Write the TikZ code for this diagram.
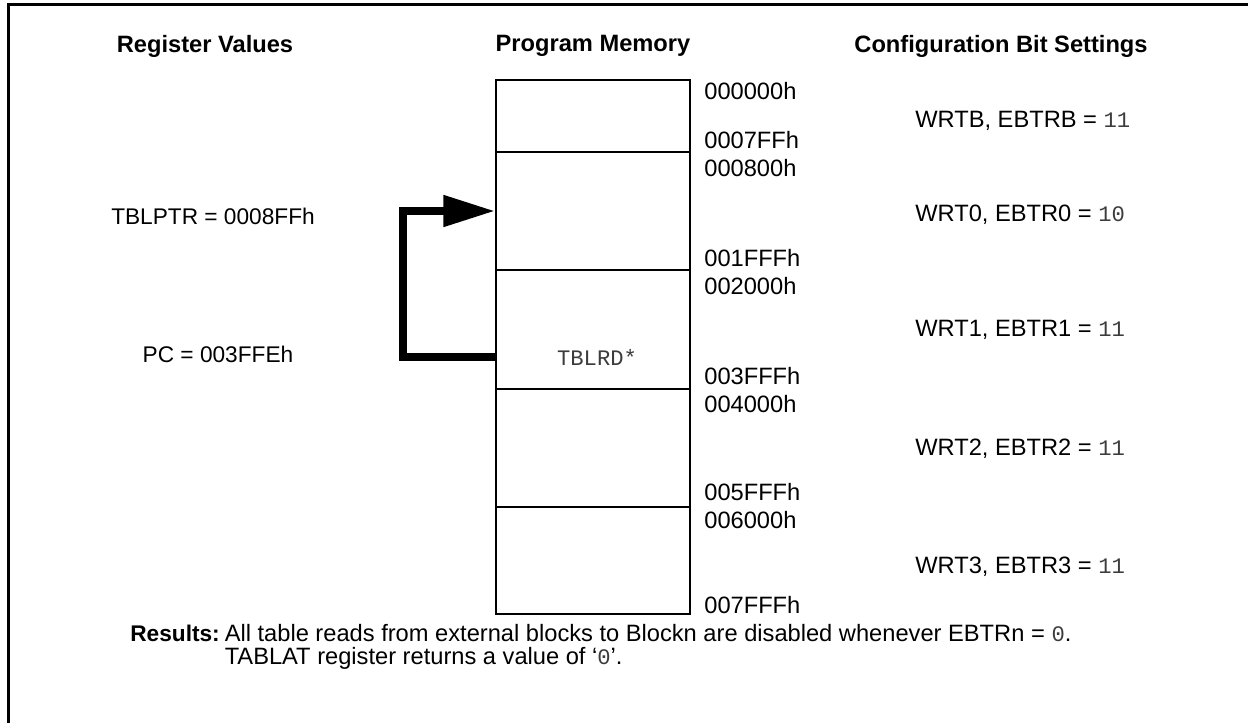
\documentclass[tikz,border=0pt]{standalone}
\usepackage{fontspec}
\setmainfont{Liberation Sans}
\setmonofont{Liberation Mono}
\usetikzlibrary{positioning, arrows.meta}
\definecolor{memline}{RGB}{0, 0, 0}
\definecolor{monogray}{RGB}{60, 60, 60}
\tikzset{
  every node/.style={
    inner sep=0pt,
    font=\fontsize{14.2}{17}\selectfont
  },
  heading/.style={
    font=\fontsize{14.2}{17}\selectfont\bfseries
  },
  memblock/.style={
    draw=memline,
    line width=1.2pt,
    minimum width=116.4pt,
    anchor=north west
  },
  addr/.style={
    anchor=west
  },
  cfgbits/.style={
    anchor=west
  },
  regval/.style={
    anchor=center,
    font=\fontsize{13.6}{16}\selectfont
  },
  tblread/.style={
    -{Triangle[length=31pt, width=18pt]},
    line width=4.8pt
  }
}
\newcommand{\mono}[1]{{\fontsize{13.3}{16}\ttfamily\color{monogray}#1}}

\begin{document}
\begin{tikzpicture}[x=0.6pt, y=-0.6pt]
  \useasboundingbox (0,0) rectangle (1248,722);
  % Frame
  \draw[line width=1.5pt] (8.5,730) -- (8.5,4.5) -- (1260,4.5);

  % Column headings
  \node[heading] (hreg) at (205,46) {Register Values};
  \node[heading] (hmem) at (593,46) {Program Memory};
  \node[heading] (hcfg) at (1001,46) {Configuration Bit Settings};

  % Program memory blocks
  \node[memblock, minimum height=43.2pt] (blkB) at (495,79)  {};
  \node[memblock, minimum height=70.8pt] (blk0) at (495,151) {};
  \node[memblock, minimum height=71.4pt] (blk1) at (495,269) {};
  \node[memblock, minimum height=70.8pt] (blk2) at (495,388) {};
  \node[memblock, minimum height=64.2pt] (blk3) at (495,506) {};

  % Addresses
  \node[addr] (a0) at (704,91)  {000000h};
  \node[addr] (a1) at (704,140) {0007FFh};
  \node[addr] (a2) at (704,168) {000800h};
  \node[addr] (a3) at (704,258) {001FFFh};
  \node[addr] (a4) at (704,286) {002000h};
  \node[addr] (a5) at (704,376) {003FFFh};
  \node[addr] (a6) at (704,404) {004000h};
  \node[addr] (a7) at (704,492) {005FFFh};
  \node[addr] (a8) at (704,520) {006000h};
  \node[addr] (a9) at (704,605) {007FFFh};

  % Configuration bits
  \node[cfgbits] (cB) at (915,121) {WRTB, EBTRB = \mono{11}};
  \node[cfgbits] (c0) at (915,215) {WRT0, EBTR0 = \mono{10}};
  \node[cfgbits] (c1) at (915,330) {WRT1, EBTR1 = \mono{11}};
  \node[cfgbits] (c2) at (915,449) {WRT2, EBTR2 = \mono{11}};
  \node[cfgbits] (c3) at (915,567) {WRT3, EBTR3 = \mono{11}};

  % Register values
  \node[regval] (tblptr) at (213,216) {TBLPTR = 0008FFh};
  \node[regval] (pc) at (218,354) {PC = 003FFEh};
  \node (tblrd) at (597,357) {\mono{TBLRD*}};

  % Table read
  \draw[tblread] (blk1.west |- tblrd) -- ++(-92,0) |- (blk0.west);

  % Results
  \node[anchor=base west, font=\fontsize{13.6}{16}\selectfont\bfseries] (reslbl) at (130,641) {Results:};
  \node[anchor=base west] (res1) at ([xshift=2.6pt]reslbl.base east) {All table reads from external blocks to Blockn are disabled whenever EBTRn = \mono{0}.};
  \node[anchor=base west] (res2) at ([yshift=-13.8pt]res1.base west) {TABLAT register returns a value of `\mono{0}'.};
\end{tikzpicture}
\end{document}
